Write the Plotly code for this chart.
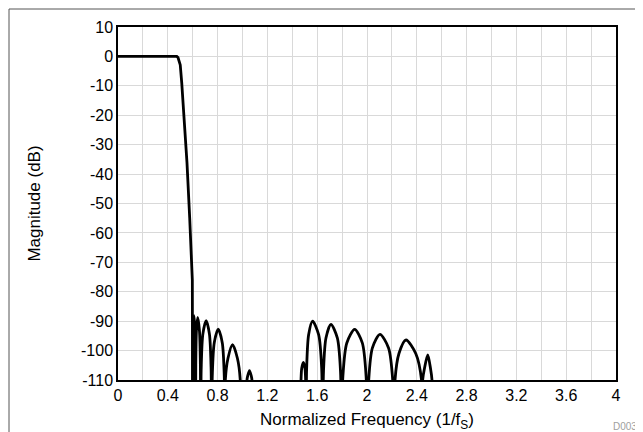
import plotly.graph_objects as go

# Passband + transition band (normalized frequency, dB)
pass_f = [0.0, 0.1, 0.2, 0.3, 0.4, 0.45, 0.472, 0.482, 0.490, 0.500, 0.512, 0.527, 0.541, 0.554, 0.576, 0.597, 0.600]
pass_db = [0.0, 0.0, 0.0, 0.0, 0.0, 0.0, 0.0, -0.4, -1.3, -2.9, -9.0, -18.8, -28.0, -36.0, -55.0, -76.0, -135.0]

# First group of stopband lobes
lobe1_f = [0.600, 0.601, 0.604, 0.610, 0.6178, 0.6217, 0.623,
           0.6247, 0.6298, 0.640, 0.6544, 0.6616, 0.664,
           0.6684, 0.6816, 0.708, 0.7344, 0.7476, 0.752,
           0.7573, 0.7732, 0.805, 0.8374, 0.8536, 0.859,
           0.862, 0.8834, 0.920, 0.959, 0.982, 0.985,
           1.033, 1.036, 1.0422, 1.056, 1.0698, 1.076, 1.079]
lobe1_db = [-135, -104.0, -92.6, -88.0, -92.6, -104.0, -135,
            -104.7, -93.3, -88.7, -93.3, -104.7, -135,
            -105.8, -94.4, -89.8, -94.4, -105.8, -135,
            -108.7, -97.3, -92.7, -97.3, -108.7, -135,
            -110.0, -102.6, -98.0, -102.6, -110.0, -135,
            -135, -110.0, -108.5, -106.8, -108.5, -110.0, -135]

# Second group of stopband lobes
lobe2_f = [1.467, 1.470, 1.4758, 1.489, 1.5018, 1.507, 1.510,
           1.5153, 1.5312, 1.563, 1.6116, 1.6359, 1.644,
           1.6506, 1.6704, 1.710, 1.7616, 1.7874, 1.796,
           1.8063, 1.8378, 1.901, 1.9622, 1.9928, 2.003,
           2.0131, 2.0434, 2.104, 2.173, 2.2075, 2.219,
           2.225, 2.2566, 2.313, 2.3916, 2.438, 2.444,
           2.447, 2.4616, 2.488, 2.5102, 2.522, 2.525]
lobe2_db = [-135, -110.0, -106.0, -104.0, -106.0, -110.0, -135,
            -106.0, -94.6, -90.0, -94.6, -106.0, -135,
            -107.1, -95.7, -91.1, -95.7, -107.1, -135,
            -108.8, -97.4, -92.8, -97.4, -108.8, -135,
            -110.5, -99.1, -94.5, -99.1, -110.5, -135,
            -110.0, -101.0, -96.4, -101.0, -110.0, -135,
            -110.0, -106.1, -101.5, -106.1, -110.0, -135]

x_ticks = [0, 0.4, 0.8, 1.2, 1.6, 2.0, 2.4, 2.8, 3.2, 3.6, 4.0]
x_labels = ["0", "0.4", "0.8", "1.2", "1.6", "2", "2.4", "2.8", "3.2", "3.6", "4"]
y_ticks = [10, 0, -10, -20, -30, -40, -50, -60, -70, -80, -90, -100, -110]
y_labels = ["10", "0", "-10", "-20", "-30", "-40", "-50", "-60", "-70", "-80", "-90", "-100", "-110"]

line = dict(color="black", width=2.8)
fig = go.Figure()
fig.add_trace(go.Scatter(x=pass_f, y=pass_db, mode="lines", line=line, showlegend=False))
fig.add_trace(go.Scatter(x=lobe1_f, y=lobe1_db, mode="lines", line=dict(line, shape="spline", smoothing=0.8), showlegend=False))
fig.add_trace(go.Scatter(x=lobe2_f, y=lobe2_db, mode="lines", line=dict(line, shape="spline", smoothing=0.8), showlegend=False))

# page body has an 8px margin: figure is 635x424 placed at (8, 8)
W, H = 635, 424
L, R, T, B = 110, 27, 19, 52
font = dict(family="Liberation Sans, Arial, sans-serif", size=16, color="black")
tfont = dict(font, size=17)
fig.update_layout(
    width=W, height=H,
    margin=dict(l=L, r=R, t=T, b=B),
    paper_bgcolor="white", plot_bgcolor="white",
    font=font,
    xaxis=dict(range=[0, 4], tickvals=x_ticks, ticktext=x_labels, showgrid=True,
               gridcolor="#d9d9d9", gridwidth=1, ticks="", showline=True, linecolor="black",
               linewidth=1.5, mirror=True, zeroline=False,
               minor=dict(dtick=0.2, tick0=0, showgrid=True, gridcolor="#d9d9d9", gridwidth=1),
               title=dict(text="Normalized Frequency (1/f<sub>S</sub>)", standoff=11, font=tfont),
               tickfont=font, automargin=False),
    yaxis=dict(range=[-110, 10], tickvals=y_ticks, ticktext=y_labels, showgrid=True, gridcolor="#d9d9d9",
               gridwidth=1, ticks="", showline=True, linecolor="black", linewidth=1.5,
               mirror=True, zeroline=False, title=dict(text="Magnitude (dB)", standoff=36, font=tfont),
               tickfont=font, automargin=False),
)
pw, ph = W - L - R, H - T - B
# outer frame starting at page pixel (9, 9)
fig.add_shape(type="rect", xref="paper", yref="paper",
              x0=(9 - 8 - L) / pw, x1=1.2, y0=-0.4, y1=(H - B - (9 - 8)) / ph,
              line=dict(color="#555555", width=1), fillcolor="rgba(0,0,0,0)", layer="below")
fig.add_annotation(text="D003", xref="paper", yref="paper", x=(611 - 8 - L) / pw, y=(H - B - (426 - 8)) / ph,
                   xanchor="left", yanchor="middle", showarrow=False,
                   font=dict(family="Liberation Sans, Arial, sans-serif", size=10, color="#a0a0a0"))
fig.write_html("out.html")
